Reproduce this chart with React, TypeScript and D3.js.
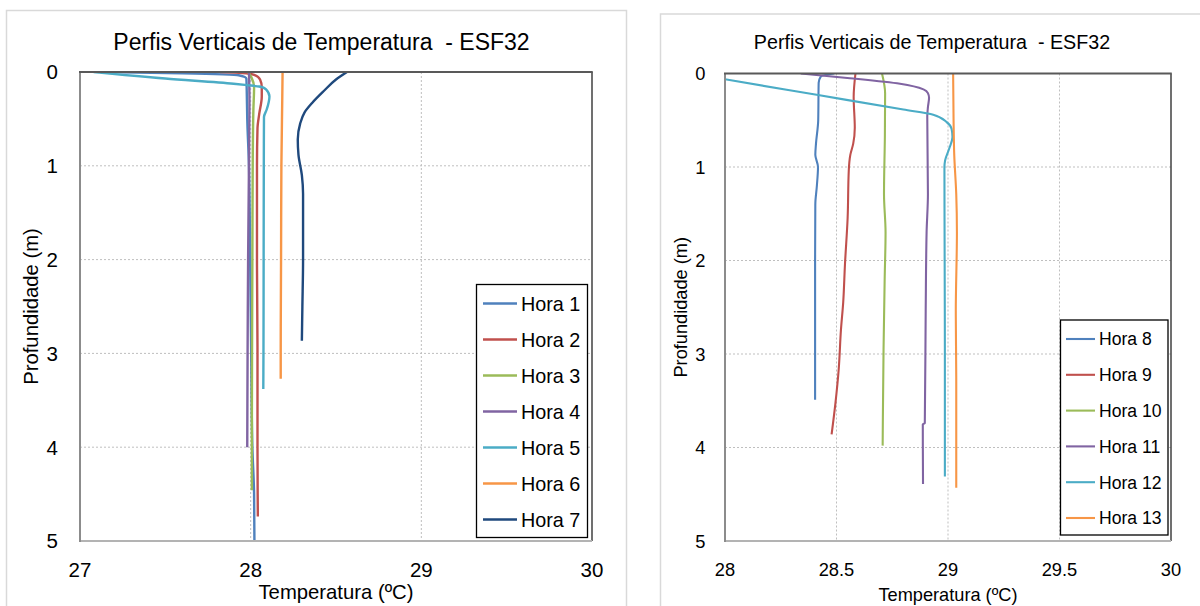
import React from "react";
import * as d3 from "d3";

type P = [number, number];

// ---- data: [temperature ºC, depth m] ----
const leftNames = ["Hora 1", "Hora 2", "Hora 3", "Hora 4", "Hora 5", "Hora 6", "Hora 7"];
const rightNames = ["Hora 8", "Hora 9", "Hora 10", "Hora 11", "Hora 12", "Hora 13"];

const hora1: P[] = [[27.15, 0], [27.6, 0.015], [27.93, 0.035], [27.975, 0.07], [27.977, 0.2], [27.98, 0.5], [27.99, 1.0], [27.997, 2.0], [28.003, 3.0], [28.01, 4.0], [28.02, 4.5], [28.022, 5.0]];
const hora2: P[] = [[27.82, 0], [27.95, 0.01], [28.02, 0.03], [28.055, 0.08], [28.065, 0.16], [28.065, 0.26], [28.05, 0.45], [28.04, 0.6], [28.037, 1.0], [28.037, 2.0], [28.04, 3.0], [28.04, 4.0], [28.042, 4.74]];
const hora3: P[] = [[27.985, 0], [28.005, 0.06], [28.02, 0.16], [28.016, 0.4], [28.012, 1.0], [28.01, 2.0], [28.008, 3.0], [28.007, 4.0], [28.007, 4.46]];
const hora4: P[] = [[27.99, 0], [27.993, 0.3], [27.99, 1.0], [27.985, 2.0], [27.982, 3.0], [27.98, 4.0]];
const hora5: P[] = [[27.08, 0], [27.5, 0.07], [27.9, 0.125], [27.98, 0.14], [28.05, 0.155], [28.09, 0.185], [28.11, 0.26], [28.094, 0.4], [28.078, 0.48], [28.077, 1.0], [28.076, 2.0], [28.075, 3.0], [28.074, 3.38]];
const hora6: P[] = [[28.187, 0], [28.185, 0.3], [28.18, 1.0], [28.178, 2.0], [28.176, 3.0], [28.176, 3.27]];
const hora7: P[] = [[28.564, 0], [28.5, 0.08], [28.43, 0.2], [28.36, 0.33], [28.316, 0.43], [28.29, 0.55], [28.276, 0.72], [28.28, 0.88], [28.3, 1.1], [28.307, 1.3], [28.307, 2.0], [28.303, 2.5], [28.3, 2.865]];

const hora8: P[] = [[28.49, 0], [28.43, 0.03], [28.42, 0.1], [28.418, 0.5], [28.408, 0.75], [28.405, 0.87], [28.417, 1.0], [28.412, 1.2], [28.405, 1.4], [28.404, 2.0], [28.404, 3.0], [28.404, 3.49]];
const hora9: P[] = [[28.585, 0], [28.577, 0.25], [28.582, 0.58], [28.575, 0.75], [28.562, 0.87], [28.555, 1.04], [28.55, 1.54], [28.538, 2.04], [28.53, 2.45], [28.52, 2.74], [28.51, 3.16], [28.495, 3.53], [28.478, 3.86]];
const hora10: P[] = [[28.704, 0], [28.718, 0.21], [28.717, 0.66], [28.713, 1.29], [28.72, 1.7], [28.716, 2.2], [28.711, 2.95], [28.707, 3.98]];
const hora11: P[] = [[28.34, 0], [28.56, 0.05], [28.785, 0.11], [28.89, 0.17], [28.91, 0.21], [28.915, 0.26], [28.91, 0.36], [28.907, 0.46], [28.91, 1.29], [28.904, 1.7], [28.9, 2.54], [28.896, 3.74], [28.887, 3.75], [28.888, 4.39]];
const hora12: P[] = [[27.85, 0], [28.0, 0.062], [28.411, 0.228], [28.8, 0.385], [28.934, 0.44], [28.994, 0.52], [29.016, 0.59], [29.02, 0.68], [29.006, 0.8], [28.987, 0.93], [28.984, 1.0], [28.985, 2.0], [28.986, 3.0], [28.986, 4.31]];
const hora13: P[] = [[29.023, 0], [29.025, 0.5], [29.028, 0.87], [29.037, 1.29], [29.04, 1.7], [29.035, 2.54], [29.037, 3.3], [29.037, 4.43]];

const leftSeries = [hora1, hora2, hora3, hora4, hora5, hora6, hora7];
const rightSeries = [hora8, hora9, hora10, hora11, hora12, hora13];

const leftXTicks = [27, 28, 29, 30];
const rightXTicks = [28, 28.5, 29, 29.5, 30];
const depthTicks = [0, 1, 2, 3, 4, 5];

const leftColors = ["#4F81BD", "#C0504D", "#9BBB59", "#8064A2", "#4BACC6", "#F79646", "#1F497D"];
const rightColors = ["#4F81BD", "#C0504D", "#9BBB59", "#8064A2", "#4BACC6", "#F79646"];

const TITLE = "Perfis Verticais de Temperatura  - ESF32";
const FONT = "'Liberation Sans', Arial, sans-serif";

interface Cfg {
  id: string;
  frame: { x: number; y: number; w: number; h: number };
  plot: { x0: number; x1: number; y0: number; y1: number };
  xDomain: [number, number];
  xTicks: number[];
  xGrid: number[];
  title: { x: number; y: number; size: number };
  tickSize: number;
  yTickX: number;
  xTickY: number;
  xTitleY: number;
  yTitleX: number;
  axisTitleSize: number;
  legend: { x0: number; x1: number; y0: number; y1: number; lx0: number; lx1: number; tx: number; cy0: number; step: number; size: number };
  lineW: number;
}

const leftCfg: Cfg = {
  id: "L",
  frame: { x: 6.5, y: 10.5, w: 620, h: 620 },
  plot: { x0: 80, x1: 592, y0: 72, y1: 541 },
  xDomain: [27, 30],
  xTicks: leftXTicks,
  xGrid: [28, 29],
  title: { x: 321.5, y: 49.5, size: 23 },
  tickSize: 20.5,
  yTickX: 58,
  xTickY: 577,
  xTitleY: 598.5,
  yTitleX: 38,
  axisTitleSize: 20.3,
  legend: { x0: 476.5, x1: 587.5, y0: 284.5, y1: 537.5, lx0: 483, lx1: 517, tx: 521, cy0: 303.5, step: 36, size: 19.8 },
  lineW: 2.4,
};

const rightCfg: Cfg = {
  id: "R",
  frame: { x: 660.5, y: 14, w: 620, h: 620 },
  plot: { x0: 725, x1: 1171, y0: 73.5, y1: 541 },
  xDomain: [28, 30],
  xTicks: rightXTicks,
  xGrid: [28.5, 29, 29.5],
  title: { x: 932, y: 48.5, size: 19.7 },
  tickSize: 18.3,
  yTickX: 705.5,
  xTickY: 575.5,
  xTitleY: 601,
  yTitleX: 687,
  axisTitleSize: 18.2,
  legend: { x0: 1060.5, x1: 1168, y0: 320, y1: 535, lx0: 1066, lx1: 1095, tx: 1099, cy0: 339, step: 35.8, size: 17.6 },
  lineW: 2.1,
};

function Chart({ cfg, series, names, colors }: { cfg: Cfg; series: P[][]; names: string[]; colors: string[] }) {
  const { plot, legend } = cfg;
  const x = d3.scaleLinear().domain(cfg.xDomain).range([plot.x0, plot.x1]);
  const y = d3.scaleLinear().domain([0, 5]).range([plot.y0, plot.y1]);
  const line = d3
    .line<P>()
    .x((d) => x(d[0]))
    .y((d) => y(d[1]))
    .curve(d3.curveMonotoneY);
  const clipId = "clip" + cfg.id;
  const fmt = (v: number) => (Number.isInteger(v) ? String(v) : String(v));
  return (
    <g fontFamily={FONT}>
      <rect x={cfg.frame.x} y={cfg.frame.y} width={cfg.frame.w} height={cfg.frame.h} fill="#fff" stroke="#d9d9d9" strokeWidth={1.5} />
      <text x={cfg.title.x} y={cfg.title.y} textAnchor="middle" fontSize={cfg.title.size} fill="#000" style={{ whiteSpace: "pre" }}>
        {TITLE}
      </text>
      <defs>
        <clipPath id={clipId}>
          <rect x={plot.x0} y={plot.y0} width={plot.x1 - plot.x0} height={plot.y1 - plot.y0} />
        </clipPath>
      </defs>
      {/* grid */}
      {cfg.xGrid.map((t) => (
        <line key={"gx" + t} x1={x(t)} x2={x(t)} y1={plot.y0} y2={plot.y1} stroke="#bfbfbf" strokeWidth={1} strokeDasharray="2,2" />
      ))}
      {depthTicks.slice(1, -1).map((t) => (
        <line key={"gy" + t} x1={plot.x0} x2={plot.x1} y1={y(t)} y2={y(t)} stroke="#bfbfbf" strokeWidth={1} strokeDasharray="2,2" />
      ))}
      {/* series */}
      <g clipPath={`url(#${clipId})`}>
        {series.map((s, i) => (
          <path key={i} d={line(s) || ""} fill="none" stroke={colors[i]} strokeWidth={cfg.lineW} strokeLinejoin="round" strokeLinecap="butt" />
        ))}
      </g>
      {/* frame lines */}
      <line x1={plot.x1} x2={plot.x1} y1={plot.y0} y2={plot.y1} stroke="#404040" strokeWidth={1.5} />
      <line x1={plot.x0} x2={plot.x1} y1={plot.y1} y2={plot.y1} stroke="#b3b3b3" strokeWidth={2} />
      <line x1={plot.x0} x2={plot.x0} y1={plot.y0} y2={plot.y1 + 1} stroke="#8c8c8c" strokeWidth={2} />
      <line x1={plot.x0 - 1} x2={plot.x1 + 0.75} y1={plot.y0} y2={plot.y0} stroke="#595959" strokeWidth={2} />
      {/* tick labels */}
      {depthTicks.map((t) => (
        <text key={"ty" + t} x={cfg.yTickX} y={y(t)} dy="0.36em" textAnchor="end" fontSize={cfg.tickSize} fill="#000">
          {t}
        </text>
      ))}
      {cfg.xTicks.map((t) => (
        <text key={"tx" + t} x={x(t)} y={cfg.xTickY} textAnchor="middle" fontSize={cfg.tickSize} fill="#000">
          {fmt(t)}
        </text>
      ))}
      <text x={(plot.x0 + plot.x1) / 2} y={cfg.xTitleY} textAnchor="middle" fontSize={cfg.axisTitleSize} fill="#000">
        Temperatura (ºC)
      </text>
      <text
        transform={`translate(${cfg.yTitleX},${(plot.y0 + plot.y1) / 2}) rotate(-90)`}
        textAnchor="middle"
        fontSize={cfg.axisTitleSize}
        fill="#000"
      >
        Profundidade (m)
      </text>
      {/* legend */}
      <rect x={legend.x0} y={legend.y0} width={legend.x1 - legend.x0} height={legend.y1 - legend.y0} fill="#fff" stroke="#000" strokeWidth={1.3} />
      {names.map((n, i) => {
        const cy = legend.cy0 + i * legend.step;
        return (
          <g key={n}>
            <line x1={legend.lx0} x2={legend.lx1} y1={cy} y2={cy} stroke={colors[i]} strokeWidth={cfg.lineW} />
            <text x={legend.tx} y={cy} dy="0.36em" fontSize={legend.size} fill="#000">
              {n}
            </text>
          </g>
        );
      })}
    </g>
  );
}

export default function App() {
  return (
    <svg width={1200} height={606} style={{ position: "absolute", left: 0, top: 0, background: "#fff" }}>
      <rect x={0} y={0} width={1200} height={606} fill="#fff" />
      <Chart cfg={leftCfg} series={leftSeries} names={leftNames} colors={leftColors} />
      <Chart cfg={rightCfg} series={rightSeries} names={rightNames} colors={rightColors} />
    </svg>
  );
}
